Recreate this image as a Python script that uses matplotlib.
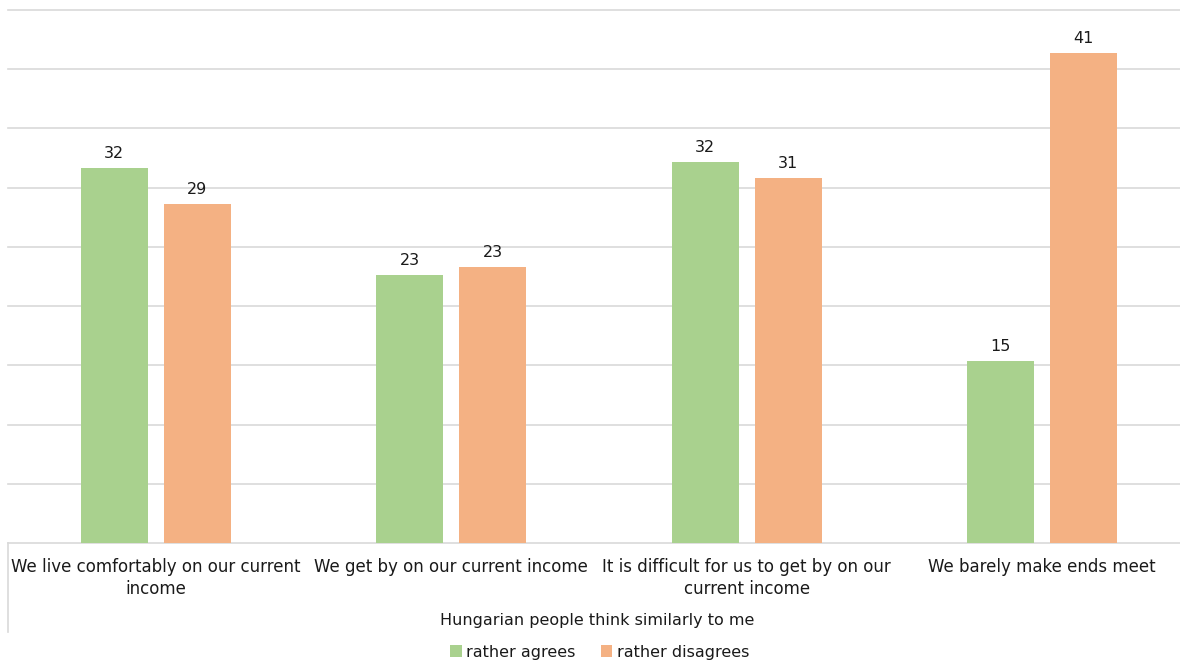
import matplotlib.pyplot as plt
import numpy as np
from matplotlib.lines import Line2D

categories = ["We live comfortably on our current\nincome",
              "We get by on our current income",
              "It is difficult for us to get by on our\ncurrent income",
              "We barely make ends meet"]
agrees = [31.7, 22.6, 32.2, 15.4]
disagrees = [28.6, 23.3, 30.8, 41.4]
series_names = ["rather agrees", "rather disagrees"]
axis_title = "Hungarian people think similarly to me"

green = "#A9D18E"
orange = "#F4B183"
grid_c = "#D9D9D9"

plt.rcParams['font.family'] = ['DejaVu Sans']

fig = plt.figure(figsize=(11.8, 6.64), dpi=100)
ax = fig.add_axes([8 / 1180, 121 / 664, 1182 / 1180, 533 / 664])

x = np.arange(len(categories))
w = 0.227
b1 = ax.bar(x - 0.141, agrees, w, color=green, label=series_names[0], zorder=3)
b2 = ax.bar(x + 0.141, disagrees, w, color=orange, label=series_names[1], zorder=3)

for bars in (b1, b2):
    ax.bar_label(bars, fmt="%.0f", padding=5, fontsize=11.5, color="#1a1a1a")

ax.set_xlim(-0.5, len(categories) - 0.5)
ax.set_ylim(0, 45)
ax.set_yticks(np.arange(5, 50, 5))
ax.yaxis.grid(True, color=grid_c, linewidth=1.2, zorder=0)
for g in ax.yaxis.get_gridlines():
    g.set_clip_on(False)
ax.tick_params(axis='y', left=False, labelleft=False)
ax.set_xticks(x)
ax.set_xticklabels(categories, fontsize=12, color="#1a1a1a", linespacing=1.3)
ax.tick_params(axis='x', length=0, pad=11)
for s in ("top", "right", "left"):
    ax.spines[s].set_visible(False)
ax.spines["bottom"].set_color(grid_c)
ax.spines["bottom"].set_linewidth(1.2)

# left edge of the category axis box
fig.add_artist(Line2D([8 / 1180, 8 / 1180], [1 - 543 / 664, 1 - 632 / 664],
                      transform=fig.transFigure, color=grid_c, linewidth=1.2))

fig.text(597 / 1180, 1 - 620 / 664, axis_title, ha='center', va='center',
         fontsize=11.5, color="#1a1a1a")
fig.legend(loc='center', bbox_to_anchor=(600 / 1180, 1 - 652 / 664), ncol=2,
           frameon=False, fontsize=11.5, handlelength=0.7, handleheight=0.7,
           handletextpad=0.3, columnspacing=1.6, labelcolor="#1a1a1a")

fig.savefig("out.png", dpi=100)
